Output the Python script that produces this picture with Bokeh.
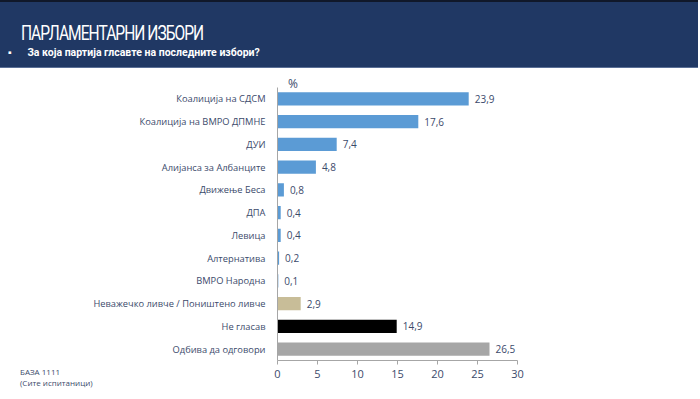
from bokeh.plotting import figure
from bokeh.models import ColumnDataSource, FactorRange, Range1d, Div
from bokeh.layouts import column
from bokeh.core.properties import value
from bokeh.embed import file_html
from bokeh.resources import INLINE

categories = ["Коалиција на СДСМ", "Коалиција на ВМРО ДПМНЕ", "ДУИ", "Алијанса за Албанците",
              "Движење Беса", "ДПА", "Левица", "Алтернатива", "ВМРО Народна",
              "Неважечко ливче / Поништено ливче", "Не гласав", "Одбива да одговори"]
values = [23.9, 17.6, 7.4, 4.8, 0.8, 0.4, 0.4, 0.2, 0.1, 2.9, 14.9, 26.5]
colors = ["#5b9bd5"] * 9 + ["#c8bd98", "#000000", "#a6a6a6"]
x_ticks = [0, 5, 10, 15, 20, 25, 30]
title_text = "ПАРЛАМЕНТАРНИ ИЗБОРИ"
subtitle_text = "За која партија глсавте на последните избори?"
base_text = "БАЗА 1111"
base_note = "(Сите испитаници)"
unit_text = "%"

label_col = "#3b4a6b"
font = "Open Sans"

src = ColumnDataSource(dict(
    cat=categories, val=values, col=colors,
    lab=[f"{v:.1f}".replace(".", ",") for v in values],
))

header = Div(
    text=(
        f'<div style="position:relative;width:698px;height:68px;background:#203864;'
        f'border-top:2px solid #10182a;border-bottom:1px solid #5a6f96;box-sizing:border-box;overflow:hidden;">'
        f'<div style="position:absolute;left:21px;top:16px;color:white;font-family:Roboto;'
        f'font-size:21px;letter-spacing:-1.3px;transform:scaleX(0.74);transform-origin:left;white-space:nowrap;">{title_text}</div>'
        f'<div style="position:absolute;left:8px;top:43px;color:white;font-family:Roboto;'
        f'font-size:10.5px;font-weight:bold;white-space:nowrap;">&#9642;&nbsp;&nbsp;&nbsp;&nbsp;&nbsp;&nbsp;{subtitle_text}</div>'
        f'</div>'
    ),
    width=698, height=68, margin=(0, 0, 0, 0),
)

unit_div = Div(
    text=(
        f'<div style="font-family:\'Open Sans\';font-size:12px;line-height:14px;color:{label_col};'
        f'padding-left:288px;padding-top:9px;white-space:nowrap;">{unit_text}</div>'
    ),
    width=320, height=20, margin=(0, 0, -20, 0),
    styles={"z-index": "2", "pointer-events": "none"},
)

p = figure(
    width=684, height=323,
    y_range=FactorRange(*list(reversed(categories))),
    x_range=Range1d(0, 30),
    output_backend="svg", toolbar_location=None,
    min_border_left=277, min_border_right=167, min_border_top=19, min_border_bottom=31,
)
p.outline_line_color = None
p.background_fill_color = "white"
p.border_fill_color = None

p.hbar(y="cat", right="val", left=0, height=0.58, fill_color="col", line_color=None, source=src)
p.text(x="val", y="cat", text="lab", source=src, x_offset=6,
       text_font=value(font), text_font_size="10px", text_color=label_col,
       text_baseline="middle", text_align="left")

p.xgrid.visible = False
p.ygrid.visible = False

p.xaxis.ticker = x_ticks
p.xaxis.axis_line_color = "#a6a6a6"
p.xaxis.major_tick_line_color = "#a6a6a6"
p.xaxis.minor_tick_line_color = None
p.xaxis.major_tick_in = 0
p.xaxis.major_tick_out = 4
p.xaxis.major_label_standoff = 5
p.xaxis.major_label_text_font = font
p.xaxis.major_label_text_font_size = "11px"
p.xaxis.major_label_text_color = label_col

p.yaxis.axis_line_color = "#a6a6a6"
p.yaxis.major_tick_line_color = None
p.yaxis.major_label_text_font = font
p.yaxis.major_label_text_font_size = "9.3px"
p.yaxis.major_label_text_color = label_col
p.yaxis.major_label_standoff = 6

footer = Div(
    text=(
        f'<div style="font-family:\'Open Sans\';font-size:8px;line-height:11px;color:{label_col};'
        f'padding-left:20px;padding-top:0px;white-space:nowrap;">{base_text}<br>{base_note}</div>'
    ),
    width=150, height=25, margin=(-25, 0, 0, 0),
)

layout = column(header, unit_div, p, footer, spacing=0)
open("out.html", "w").write(file_html(layout, INLINE))
